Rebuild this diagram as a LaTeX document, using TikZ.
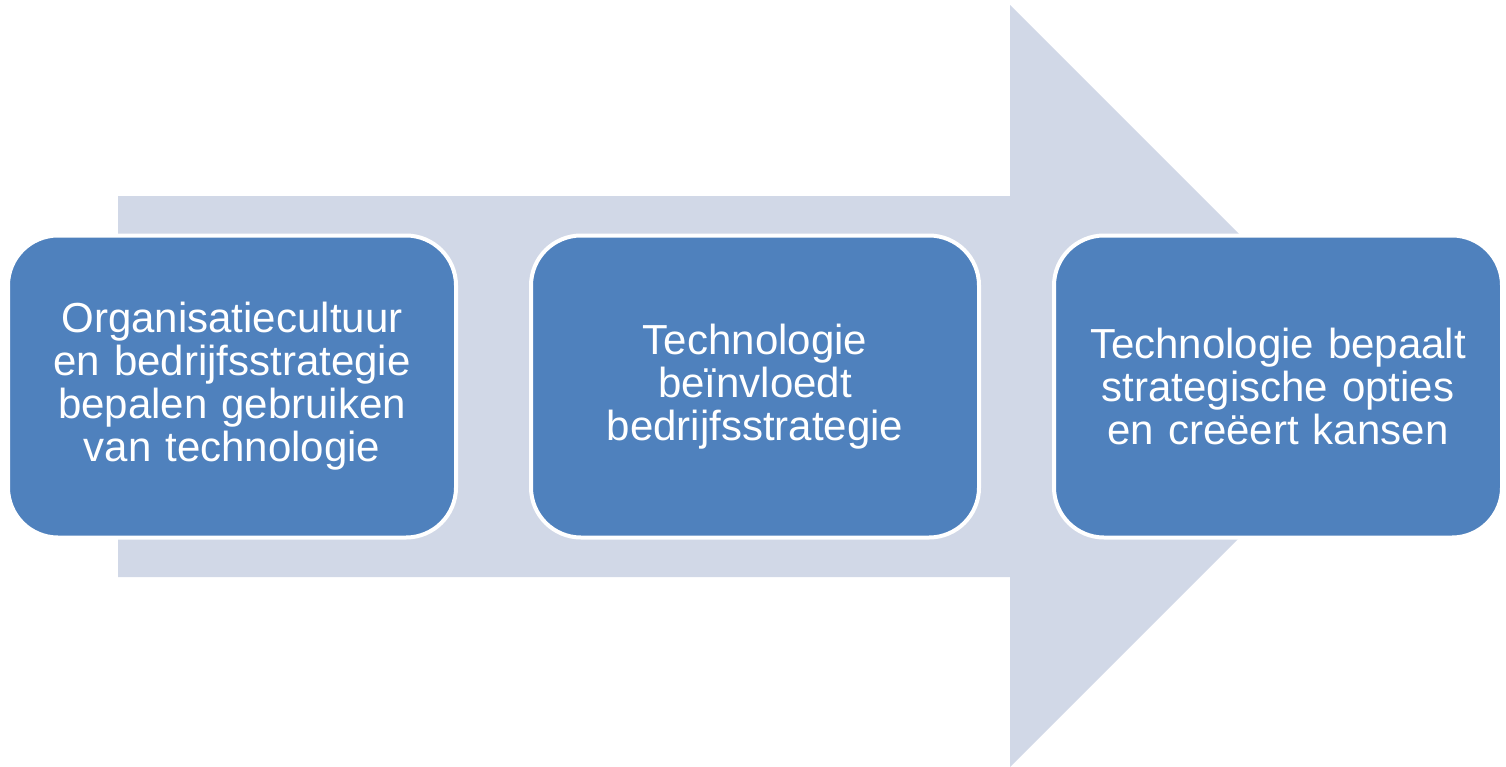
\documentclass[tikz,border=0pt]{standalone}
\usepackage{fontspec}
\setmainfont{Liberation Sans}
\definecolor{arrowcol}{HTML}{D1D8E7}
\definecolor{boxcol}{HTML}{4F81BD}
\tikzset{
  stepbox/.style={draw=white, line width=4pt, fill=boxcol, rounded corners=50pt,
    minimum width=448pt, minimum height=302pt, inner sep=0pt,
    text=white, align=center, font=\fontsize{42}{43}\selectfont, text width=420pt},
}
\begin{document}
\begin{tikzpicture}[x=1pt,y=-1pt]
\useasboundingbox (0,0) rectangle (1506,766);
% big arrow
\fill[arrowcol] (118,196) -- (1010,196) -- (1010,5) -- (1391,386) -- (1010,767) -- (1010,577) -- (118,577) -- cycle;
\node[stepbox] (b1) at (232,386.5) {Organisatiecultuur\\en bedrijfsstrategie\\bepalen gebruiken\\van technologie};
\node[stepbox] (b2) at (755,386.5) {Technologie\\beïnvloedt\\bedrijfsstrategie};
\node[stepbox] (b3) at (1278,386.5) {Technologie bepaalt\\strategische opties\\en creëert kansen};
\end{tikzpicture}
\end{document}
